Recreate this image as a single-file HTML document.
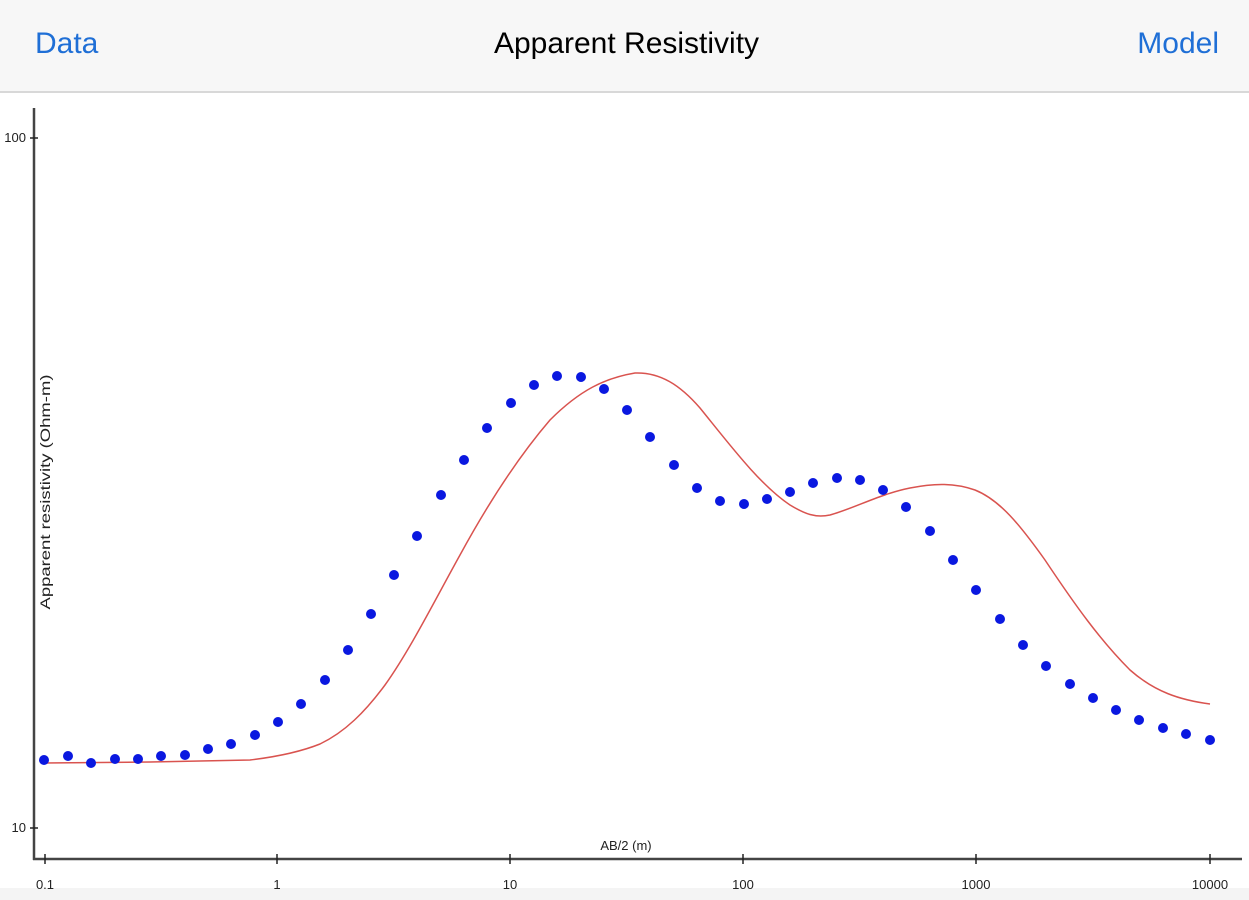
<!DOCTYPE html>
<html><head><meta charset="utf-8"><style>
html,body{margin:0;padding:0;width:1249px;height:900px;overflow:hidden;background:#fff;font-family:"Liberation Sans",sans-serif;}
.hdr{position:absolute;left:0;top:0;width:1249px;height:91px;background:#f7f7f7;border-bottom:2px solid #d8d8d8;}
.hdr div{position:absolute;top:26px;font-size:30px;line-height:36px;}
</style></head><body>
<div class="hdr">
<div style="left:35px;color:#1f6fd6">Data</div>
<div style="left:0;width:1253px;text-align:center;color:#000">Apparent Resistivity</div>
<div style="right:30px;color:#1f6fd6">Model</div>
</div>
<svg width="1249" height="900" style="position:absolute;left:0;top:0" xmlns="http://www.w3.org/2000/svg">
<rect x="0" y="888" width="1249" height="12" fill="#f4f4f4"/>
<g stroke="#444" stroke-width="2.5" fill="none">
<line x1="34" y1="108" x2="34" y2="860"/>
<line x1="33" y1="859" x2="1242" y2="859"/>
</g>
<g stroke="#222" stroke-width="1.5">
<line x1="30" y1="138" x2="38" y2="138"/><line x1="30" y1="828" x2="38" y2="828"/>
<line x1="45" y1="854" x2="45" y2="864"/><line x1="277" y1="854" x2="277" y2="864"/>
<line x1="510" y1="854" x2="510" y2="864"/><line x1="743" y1="854" x2="743" y2="864"/>
<line x1="976" y1="854" x2="976" y2="864"/><line x1="1210" y1="854" x2="1210" y2="864"/>
</g>
<g font-size="13" fill="#222" font-family="Liberation Sans,sans-serif">
<text x="26" y="142" text-anchor="end">100</text>
<text x="26" y="832" text-anchor="end">10</text>
<g text-anchor="middle">
<text x="45" y="889">0.1</text><text x="277" y="889">1</text><text x="510" y="889">10</text>
<text x="743" y="889">100</text><text x="976" y="889">1000</text><text x="1210" y="889">10000</text>
<text x="626" y="850">AB/2 (m)</text>
</g>
<text transform="translate(50,492) rotate(-90)" text-anchor="middle" font-size="14" textLength="235" lengthAdjust="spacingAndGlyphs">Apparent resistivity (Ohm-m)</text>
</g>
<path fill="none" stroke="#d9534f" stroke-width="1.5" d="M44,763 L150,762 L250,760 C275,757 300,752 320,744 C345,732 365,712 385,685 C410,650 435,600 460,555 C490,500 520,455 550,420 C580,390 605,378 635,373 C660,372 680,385 700,408 C730,445 760,485 790,505 C805,514 815,518 830,515 C855,508 880,494 910,488 C935,483 955,483 975,490 C1000,500 1020,525 1045,560 C1075,605 1100,640 1130,670 C1155,692 1180,700 1210,704"/>
<g fill="#0a18e0">
<circle cx="44" cy="760" r="5"/><circle cx="68" cy="756" r="5"/><circle cx="91" cy="763" r="5"/><circle cx="115" cy="759" r="5"/><circle cx="138" cy="759" r="5"/><circle cx="161" cy="756" r="5"/><circle cx="185" cy="755" r="5"/><circle cx="208" cy="749" r="5"/><circle cx="231" cy="744" r="5"/><circle cx="255" cy="735" r="5"/><circle cx="278" cy="722" r="5"/><circle cx="301" cy="704" r="5"/><circle cx="325" cy="680" r="5"/><circle cx="348" cy="650" r="5"/><circle cx="371" cy="614" r="5"/><circle cx="394" cy="575" r="5"/><circle cx="417" cy="536" r="5"/><circle cx="441" cy="495" r="5"/><circle cx="464" cy="460" r="5"/><circle cx="487" cy="428" r="5"/><circle cx="511" cy="403" r="5"/><circle cx="534" cy="385" r="5"/><circle cx="557" cy="376" r="5"/><circle cx="581" cy="377" r="5"/><circle cx="604" cy="389" r="5"/><circle cx="627" cy="410" r="5"/><circle cx="650" cy="437" r="5"/><circle cx="674" cy="465" r="5"/><circle cx="697" cy="488" r="5"/><circle cx="720" cy="501" r="5"/><circle cx="744" cy="504" r="5"/><circle cx="767" cy="499" r="5"/><circle cx="790" cy="492" r="5"/><circle cx="813" cy="483" r="5"/><circle cx="837" cy="478" r="5"/><circle cx="860" cy="480" r="5"/><circle cx="883" cy="490" r="5"/><circle cx="906" cy="507" r="5"/><circle cx="930" cy="531" r="5"/><circle cx="953" cy="560" r="5"/><circle cx="976" cy="590" r="5"/><circle cx="1000" cy="619" r="5"/><circle cx="1023" cy="645" r="5"/><circle cx="1046" cy="666" r="5"/><circle cx="1070" cy="684" r="5"/><circle cx="1093" cy="698" r="5"/><circle cx="1116" cy="710" r="5"/><circle cx="1139" cy="720" r="5"/><circle cx="1163" cy="728" r="5"/><circle cx="1186" cy="734" r="5"/><circle cx="1210" cy="740" r="5"/>
</g>
</svg>
</body></html>
